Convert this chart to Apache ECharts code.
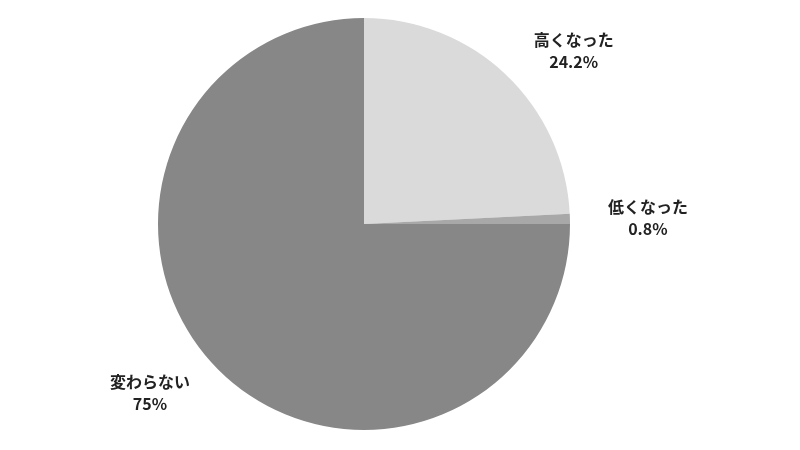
<!DOCTYPE html>
<html>
<head>
<meta charset="utf-8">
<script src="https://cdn.jsdelivr.net/npm/echarts@6/dist/echarts.min.js"></script>
<style>html,body{margin:0;padding:0;background:#fff}#c{width:800px;height:450px}</style>
</head>
<body>
<div id="c"></div>
<script>
const categories = ['高くなった', '低くなった', '変わらない'];
const values = [24.2, 0.8, 75];
const colors = ['#dadada', '#a8a8a8', '#878787'];

const chart = echarts.init(document.getElementById('c'));
chart.setOption({
  backgroundColor: '#ffffff',
  animation: false,
  series: [{
    type: 'pie',
    center: [364, 224],
    radius: 206,
    startAngle: 90,
    clockwise: true,
    avoidLabelOverlap: false,
    data: categories.map((c, i) => ({ name: c, value: values[i], itemStyle: { color: colors[i] } })),
    label: {
      show: true,
      position: 'outside',
      formatter: p => '{t|' + p.name + '}\n{t|' + p.value + '%}',
      rich: {
        t: {
          fontFamily: 'Noto Sans CJK JP',
          fontWeight: 'bold',
          fontSize: 16,
          color: '#222',
          lineHeight: 22,
          align: 'center'
        }
      }
    },
    labelLine: { show: false, length: 33, length2: 0 },
    emphasis: { disabled: true }
  }]
});
</script>
</body>
</html>
